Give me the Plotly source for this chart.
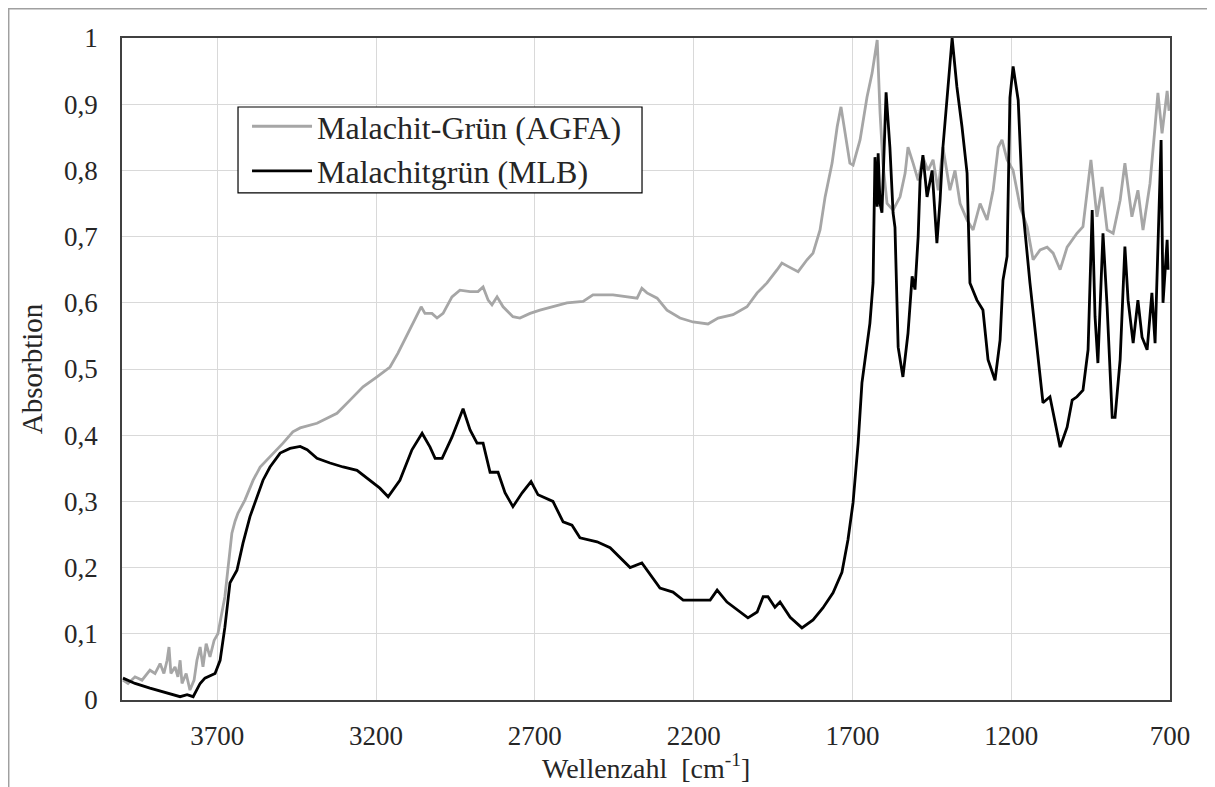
import plotly.graph_objects as go

# --- Data (wavenumber in cm^-1, absorbance) ---
agfa_wn = [3997, 3981, 3959, 3937, 3912, 3896, 3880, 3868, 3858, 3852, 3846, 3833, 3824, 3817,
           3811, 3798, 3786, 3773, 3764, 3754, 3745, 3735, 3723, 3710, 3698, 3685, 3676, 3666,
           3654, 3644, 3635, 3613, 3587, 3565, 3534, 3493, 3462, 3439, 3386, 3323, 3282, 3241,
           3197, 3156, 3131, 3115, 3084, 3058, 3046, 3024, 3008, 2989, 2961, 2936, 2904, 2879,
           2863, 2847, 2835, 2819, 2800, 2769, 2747, 2715, 2684, 2643, 2599, 2548, 2517, 2454,
           2410, 2378, 2363, 2347, 2315, 2284, 2243, 2202, 2155, 2123, 2076, 2032, 2000, 1969,
           1937, 1922, 1903, 1871, 1843, 1824, 1802, 1786, 1764, 1748, 1736, 1723, 1708, 1698,
           1676, 1654, 1638, 1622, 1613, 1604, 1591, 1572, 1550, 1534, 1525, 1509, 1493, 1478,
           1462, 1446, 1430, 1415, 1393, 1377, 1361, 1339, 1320, 1298, 1276, 1257, 1241, 1229,
           1213, 1194, 1172, 1150, 1131, 1109, 1087, 1068, 1046, 1024, 993, 974, 949, 930, 914,
           898, 879, 857, 842, 820, 801, 785, 763, 747, 738, 725, 709, 703]
agfa_abs = [0.030, 0.025, 0.035, 0.030, 0.045, 0.040, 0.055, 0.040, 0.060, 0.080, 0.040, 0.050,
            0.035, 0.060, 0.025, 0.040, 0.015, 0.030, 0.060, 0.080, 0.050, 0.085, 0.065, 0.090,
            0.100, 0.130, 0.156, 0.200, 0.252, 0.270, 0.282, 0.302, 0.332, 0.352, 0.367, 0.388,
            0.405, 0.411, 0.418, 0.433, 0.453, 0.473, 0.488, 0.503, 0.524, 0.539, 0.569, 0.594,
            0.584, 0.584, 0.577, 0.584, 0.609, 0.619, 0.617, 0.617, 0.624, 0.604, 0.597, 0.609,
            0.594, 0.579, 0.577, 0.584, 0.589, 0.594, 0.600, 0.602, 0.612, 0.612, 0.609, 0.607,
            0.622, 0.615, 0.607, 0.589, 0.577, 0.571, 0.568, 0.577, 0.582, 0.594, 0.615, 0.630,
            0.650, 0.660, 0.655, 0.647, 0.665, 0.675, 0.710, 0.760, 0.811, 0.866, 0.896, 0.856,
            0.811, 0.808, 0.846, 0.911, 0.947, 0.997, 0.887, 0.811, 0.750, 0.740, 0.760, 0.796,
            0.835, 0.811, 0.785, 0.820, 0.800, 0.816, 0.770, 0.835, 0.770, 0.800, 0.750, 0.725,
            0.710, 0.750, 0.725, 0.770, 0.835, 0.846, 0.816, 0.800, 0.745, 0.715, 0.665, 0.680,
            0.684, 0.675, 0.650, 0.684, 0.705, 0.715, 0.816, 0.730, 0.775, 0.710, 0.705, 0.755,
            0.811, 0.730, 0.770, 0.710, 0.780, 0.866, 0.917, 0.856, 0.920, 0.890]

mlb_wn = [3997, 3959, 3912, 3865, 3817, 3795, 3776, 3754, 3739, 3707, 3691, 3676, 3660, 3638,
          3619, 3597, 3575, 3556, 3534, 3502, 3471, 3439, 3417, 3386, 3345, 3304, 3260, 3219,
          3188, 3162, 3125, 3087, 3055, 3030, 3014, 2992, 2961, 2926, 2904, 2882, 2863, 2841,
          2816, 2794, 2769, 2740, 2712, 2690, 2643, 2611, 2583, 2558, 2504, 2463, 2432, 2400,
          2363, 2337, 2306, 2265, 2233, 2148, 2126, 2095, 2054, 2029, 2000, 1981, 1966, 1944,
          1928, 1896, 1859, 1824, 1793, 1761, 1733, 1714, 1698, 1682, 1670, 1660, 1645, 1635,
          1629, 1622, 1619, 1613, 1607, 1594, 1582, 1572, 1566, 1556, 1541, 1525, 1512, 1503,
          1493, 1487, 1478, 1465, 1449, 1434, 1424, 1415, 1402, 1386, 1371, 1355, 1339, 1330,
          1308, 1289, 1273, 1251, 1235, 1226, 1213, 1210, 1204, 1194, 1178, 1163, 1141, 1119,
          1100, 1078, 1046, 1024, 1008, 993, 974, 958, 945, 936, 927, 911, 898, 882, 873, 857,
          842, 832, 816, 801, 788, 772, 757, 747, 738, 728, 722, 709, 706]
mlb_abs = [0.033, 0.025, 0.018, 0.012, 0.005, 0.008, 0.005, 0.025, 0.033, 0.040, 0.060, 0.110,
           0.177, 0.196, 0.237, 0.277, 0.307, 0.332, 0.352, 0.373, 0.380, 0.383, 0.378, 0.365,
           0.358, 0.352, 0.347, 0.332, 0.320, 0.307, 0.332, 0.378, 0.403, 0.382, 0.365, 0.365,
           0.397, 0.440, 0.408, 0.388, 0.388, 0.344, 0.344, 0.313, 0.292, 0.313, 0.330, 0.310,
           0.300, 0.269, 0.264, 0.245, 0.239, 0.230, 0.215, 0.200, 0.207, 0.189, 0.169, 0.163,
           0.151, 0.151, 0.166, 0.148, 0.133, 0.124, 0.133, 0.156, 0.156, 0.140, 0.148, 0.125,
           0.109, 0.121, 0.139, 0.162, 0.193, 0.242, 0.298, 0.388, 0.479, 0.518, 0.569, 0.630,
           0.820, 0.745, 0.826, 0.750, 0.736, 0.918, 0.835, 0.736, 0.714, 0.533, 0.488, 0.554,
           0.640, 0.620, 0.700, 0.785, 0.823, 0.760, 0.800, 0.690, 0.755, 0.835, 0.910, 1.000,
           0.926, 0.866, 0.796, 0.630, 0.604, 0.589, 0.514, 0.483, 0.544, 0.634, 0.670, 0.755,
           0.910, 0.957, 0.906, 0.740, 0.630, 0.533, 0.449, 0.458, 0.382, 0.412, 0.453, 0.458,
           0.468, 0.529, 0.740, 0.579, 0.509, 0.705, 0.594, 0.427, 0.427, 0.514, 0.685, 0.604,
           0.539, 0.604, 0.548, 0.529, 0.615, 0.539, 0.680, 0.846, 0.600, 0.695, 0.650]

x_ticks = [3700, 3200, 2700, 2200, 1700, 1200, 700]
y_ticks = [0, 0.1, 0.2, 0.3, 0.4, 0.5, 0.6, 0.7, 0.8, 0.9, 1]
y_tick_labels = ["0", "0,1", "0,2", "0,3", "0,4", "0,5", "0,6", "0,7", "0,8", "0,9", "1"]

FONT = "Liberation Serif, Times New Roman, serif"
TXT = "#262626"

fig = go.Figure()
fig.add_trace(go.Scatter(x=agfa_wn, y=agfa_abs, mode="lines", name="Malachit-Grün (AGFA)",
                         line=dict(color="#a6a6a6", width=2.8)))
fig.add_trace(go.Scatter(x=mlb_wn, y=mlb_abs, mode="lines", name="Malachitgrün (MLB)",
                         line=dict(color="#000000", width=2.8)))

# page body has an 8px default margin, so the figure is 8px smaller than the window
fig.update_layout(
    width=1207, height=779,
    margin=dict(l=114, r=45, t=30, b=87),
    paper_bgcolor="white", plot_bgcolor="white",
    font=dict(family=FONT, size=27, color=TXT),
    showlegend=True,
    legend=dict(x=0.1193, y=0.9079, xanchor="left", yanchor="top",
                bgcolor="rgba(0,0,0,0)", borderwidth=0,
                font=dict(family=FONT, size=32, color=TXT),
                tracegroupgap=0, itemwidth=60),
    xaxis=dict(range=[4000, 700], tickvals=x_ticks, ticktext=[str(v) for v in x_ticks],
               showgrid=True, gridcolor="#d9d9d9", gridwidth=1,
               showline=True, linecolor="#404040", linewidth=1.5, mirror=True,
               ticks="", ticklabelstandoff=11, zeroline=False,
               tickfont=dict(family=FONT, size=27, color=TXT)),
    yaxis=dict(range=[0, 1], tickvals=y_ticks, ticktext=y_tick_labels,
               showgrid=True, gridcolor="#d9d9d9", gridwidth=1,
               showline=True, linecolor="#404040", linewidth=1.5, mirror=True,
               ticks="", ticklabelstandoff=17, zeroline=False,
               tickfont=dict(family=FONT, size=27, color=TXT),
               title=dict(text="Absorbtion", standoff=13,
                          font=dict(family=FONT, size=29, color=TXT))),
    annotations=[dict(text="Wellenzahl  [cm<sup>-1</sup>]", xref="paper", yref="paper",
                      x=0.5, y=-0.1012, xanchor="center", yanchor="middle",
                      showarrow=False, font=dict(family=FONT, size=28, color=TXT))],
    shapes=[
        dict(type="rect", xref="paper", yref="paper",
             x0=-0.1081, x1=1.041, y0=-0.14, y1=1.0442,
             line=dict(color="#a0a0a0", width=1.5), layer="below"),
        dict(type="rect", xref="paper", yref="paper",
             x0=0.1107, x1=0.4962, y0=0.7659, y1=0.8958,
             fillcolor="white", line=dict(color="#000000", width=1.2), layer="above"),
    ],
)

fig.write_html("out.html")
